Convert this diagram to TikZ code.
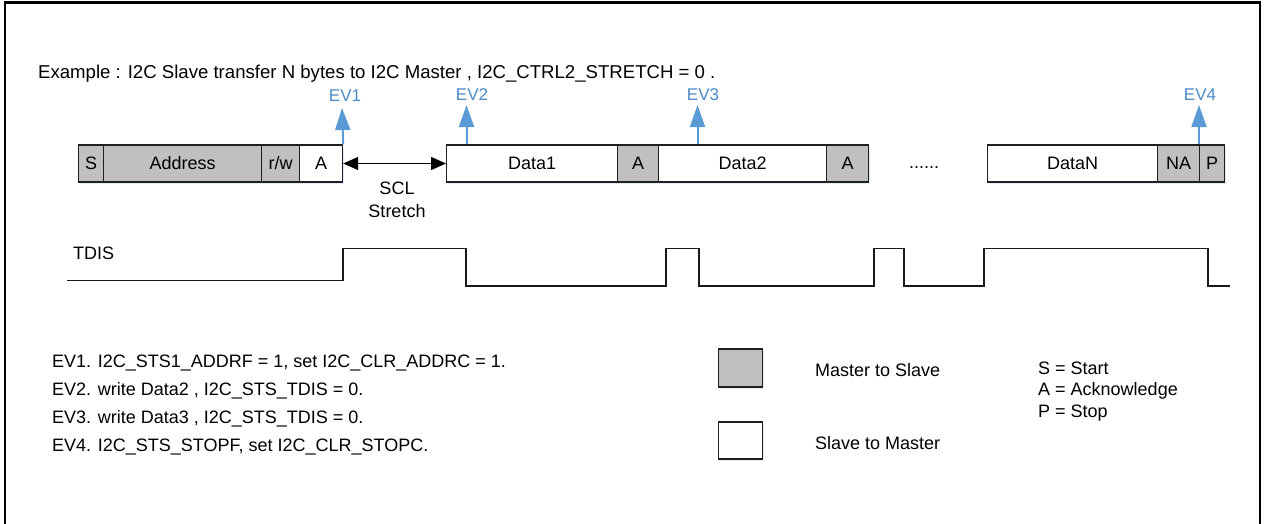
\documentclass[tikz,border=0pt]{standalone}
\usepackage{fontspec}
\setmainfont{Liberation Sans}
\usetikzlibrary{arrows.meta,shadows}
\definecolor{evblue}{HTML}{5B9BD5}
\definecolor{evtext}{HTML}{4A8AC8}
\definecolor{mgray}{HTML}{C0C0C0}
\tikzset{
  fr/.style={draw=black!88, line width=1.2pt, minimum height=37pt, inner sep=0pt, anchor=west,
    drop shadow={shadow xshift=1.2pt, shadow yshift=-1.8pt, fill=evblue!35, opacity=0.5}},
  mst/.style={fr, fill=mgray},
  slv/.style={fr, fill=white},
  evarrow/.style={draw=evblue, line width=2pt, -{Triangle[width=15pt,length=22pt]}},
  evlabel/.style={text=evtext, font=\fontsize{17}{20}\selectfont, inner sep=0pt},
  sclarrow/.style={draw=black, line width=1.3pt, {Triangle[width=13pt,length=15pt]}-{Triangle[width=13pt,length=15pt]}},
  wave/.style={draw=black!90, line width=1.6pt},
  txt/.style={inner sep=0pt, anchor=west},
}
\begin{document}
\begin{tikzpicture}[x=1pt,y=-1pt,font=\fontsize{18}{21}\selectfont]
\useasboundingbox (0,0) rectangle (1265,524);
% frame
\draw[line width=2.5pt] (5,524) -- (5,2.5) -- (1260,2.5) -- (1260,524);
% title
\node[txt, font=\fontsize{18.6}{22}\selectfont] (title) at (38,74) {Example : I2C Slave transfer N bytes to I2C Master , I2C\_CTRL2\_STRETCH = 0 .};
% frame boxes
\node[mst, minimum width=25pt]  (S)    at (78,163.5)  {S};
\node[mst, minimum width=158pt] (addr) at (103,163.5) {Address};
\node[mst, minimum width=38pt]  (rw)   at (261,163.5) {r/w};
\node[slv, minimum width=43pt]  (a1)   at (299,163.5) {A};
\node[slv, minimum width=171pt] (d1)   at (446,163.5) {Data1};
\node[mst, minimum width=41pt]  (a2)   at (617,163.5) {A};
\node[slv, minimum width=168pt] (d2)   at (658,163.5) {Data2};
\node[mst, minimum width=42pt]  (a3)   at (826,163.5) {A};
\node[inner sep=0pt] (dots) at (924,168) {......};
\node[slv, minimum width=170pt] (dn)   at (987,163.5) {DataN};
\node[mst, minimum width=42pt]  (na)   at (1157,163.5) {NA};
\node[mst, minimum width=25pt]  (p)    at (1199,163.5) {P};
% SCL stretch
\draw[sclarrow] (a1.east) -- (d1.west);
\node[align=center, inner sep=0pt, font=\fontsize{18}{23}\selectfont] (scl) at (397,199.5) {SCL\\Stretch};
% events
\coordinate (t1) at (342,108);
\coordinate (t2) at (466.5,105);
\coordinate (t3) at (697.5,105);
\coordinate (t4) at (1199,105);
\draw[evarrow] (a1.north east) -- (t1);
\draw[evarrow] (d1.north west -| t2) -- (t2);
\draw[evarrow] (d2.north west -| t3) -- (t3);
\draw[evarrow] (p.north west) -- (t4);
\node[evlabel] (ev1) at (345,96) {EV1};
\node[evlabel] (ev2) at (472,95) {EV2};
\node[evlabel] (ev3) at (703,95) {EV3};
\node[evlabel] (ev4) at (1200,95) {EV4};
% TDIS waveform
\node[txt] (tdis) at (73,253.5) {TDIS};
\draw[wave] (67,280.5) -- (343,280.5) -- (343,248.5) -- (466,248.5) -- (466,286) -- (666,286)
  -- (666,248.5) -- (699,248.5) -- (699,286) -- (874,286) -- (874,248.5) -- (904,248.5)
  -- (904,286) -- (984,286) -- (984,248.5) -- (1208,248.5) -- (1208,286) -- (1230,286);
% event descriptions
\node[txt] (l1) at (52,363) {EV1. I2C\_STS1\_ADDRF = 1, set I2C\_CLR\_ADDRC = 1.};
\node[txt] (l2) at (52,391) {EV2. write Data2 , I2C\_STS\_TDIS = 0.};
\node[txt] (l3) at (52,419) {EV3. write Data3 , I2C\_STS\_TDIS = 0.};
\node[txt] (l4) at (52,447) {EV4. I2C\_STS\_STOPF, set I2C\_CLR\_STOPC.};
% legend
\node[mst, minimum width=44pt, minimum height=38pt] (lm) at (718,368) {};
\node[slv, minimum width=44pt, minimum height=37pt] (ls) at (718,440.5) {};
\node[txt] (lmt) at (815,370.5) {Master to Slave};
\node[txt] (lst) at (815,443) {Slave to Master};
\node[txt, align=left, font=\fontsize{18}{21.7}\selectfont] (abbr) at (1038,391.5) {S = Start\\A = Acknowledge\\P = Stop};
\end{tikzpicture}
\end{document}
